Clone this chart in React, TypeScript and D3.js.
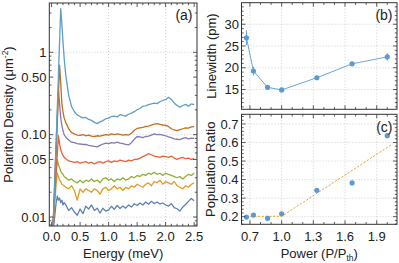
import React from "react";
import * as d3 from "d3";

// ---------- Panel (a): spectra ----------
const energy = [0.02, 0.06, 0.08, 0.1, 0.12, 0.14, 0.16, 0.18, 0.2, 0.22,
  0.25, 0.3, 0.35, 0.4, 0.45, 0.5, 0.55, 0.6, 0.65, 0.7, 0.75, 0.8, 0.85, 0.9, 0.95,
  1.0, 1.05, 1.1, 1.15, 1.2, 1.25, 1.3, 1.35, 1.4, 1.45, 1.5, 1.55, 1.6, 1.65, 1.7,
  1.75, 1.8, 1.85, 1.9, 1.95, 2.0, 2.05, 2.1, 2.15, 2.2, 2.25, 2.3, 2.35, 2.4, 2.45, 2.5];

const spec1 = [0.006, 0.011, 0.015, 0.018, 0.016, 0.017, 0.015, 0.016, 0.014, 0.015,
  0.014, 0.012, 0.013, 0.0115, 0.0105, 0.0125, 0.011, 0.0135, 0.0125, 0.014, 0.012, 0.0128, 0.0112, 0.0128, 0.0118,
  0.0122, 0.0135, 0.0124, 0.0138, 0.0127, 0.0136, 0.0128, 0.014, 0.0132, 0.0145, 0.0138, 0.0148, 0.014, 0.0152, 0.0143,
  0.0155, 0.0146, 0.0152, 0.0144, 0.0148, 0.014, 0.0136, 0.0145, 0.013, 0.0126, 0.0118, 0.0132, 0.0142, 0.0155, 0.0168, 0.0158];
const spec2 = [0.007, 0.016, 0.025, 0.034, 0.031, 0.028, 0.027, 0.025, 0.0245, 0.024,
  0.023, 0.022, 0.024, 0.021, 0.016, 0.022, 0.02, 0.022, 0.021, 0.02, 0.022, 0.021, 0.019, 0.022, 0.023,
  0.021, 0.022, 0.024, 0.022, 0.023, 0.021, 0.023, 0.022, 0.024, 0.023, 0.025, 0.024, 0.023, 0.025, 0.026,
  0.024, 0.027, 0.026, 0.028, 0.025, 0.027, 0.026, 0.025, 0.027, 0.024, 0.023, 0.022, 0.024, 0.023, 0.025, 0.026];
const spec3 = [0.007, 0.022, 0.034, 0.05, 0.043, 0.04, 0.036, 0.034, 0.033, 0.031,
  0.03, 0.028, 0.029, 0.027, 0.026, 0.028, 0.026, 0.028, 0.027, 0.029, 0.027, 0.028, 0.026, 0.029, 0.03,
  0.028, 0.029, 0.027, 0.029, 0.028, 0.03, 0.028, 0.029, 0.031, 0.03, 0.032, 0.031, 0.033, 0.032, 0.034,
  0.033, 0.035, 0.033, 0.034, 0.032, 0.034, 0.033, 0.032, 0.031, 0.03, 0.031, 0.029, 0.031, 0.033, 0.032, 0.034];
const spec4 = [0.007, 0.021, 0.035, 0.058, 0.097, 0.078, 0.066, 0.06, 0.056, 0.053,
  0.051, 0.048, 0.047, 0.046, 0.047, 0.045, 0.046, 0.047, 0.045, 0.046, 0.044, 0.046, 0.047, 0.045, 0.047,
  0.048, 0.046, 0.048, 0.047, 0.049, 0.048, 0.047, 0.049, 0.048, 0.05, 0.05, 0.052, 0.054, 0.056, 0.059,
  0.057, 0.055, 0.054, 0.053, 0.055, 0.054, 0.053, 0.055, 0.052, 0.05, 0.052, 0.053, 0.051, 0.052, 0.05, 0.051];
const spec5 = [0.006, 0.036, 0.076, 0.163, 0.348, 0.24, 0.16, 0.13, 0.112, 0.1,
  0.093, 0.086, 0.081, 0.08, 0.078, 0.077, 0.076, 0.076, 0.074, 0.073, 0.072, 0.071, 0.074, 0.077, 0.079,
  0.078, 0.08, 0.079, 0.081, 0.079, 0.078, 0.076, 0.075, 0.08, 0.088, 0.095, 0.094, 0.092, 0.095, 0.096,
  0.099, 0.102, 0.1, 0.101, 0.099, 0.097, 0.094, 0.092, 0.089, 0.088, 0.087, 0.09, 0.092, 0.089, 0.091, 0.09];
const spec6 = [0.005, 0.027, 0.06, 0.137, 0.31, 0.7, 0.42, 0.24, 0.19, 0.16,
  0.14, 0.118, 0.106, 0.102, 0.099, 0.098, 0.1, 0.097, 0.099, 0.096, 0.095, 0.097, 0.096, 0.098, 0.1,
  0.099, 0.102, 0.1, 0.102, 0.101, 0.099, 0.1, 0.099, 0.104, 0.113, 0.119, 0.121, 0.123, 0.126, 0.127,
  0.131, 0.134, 0.136, 0.133, 0.131, 0.13, 0.126, 0.118, 0.114, 0.112, 0.115, 0.118, 0.121, 0.12, 0.124, 0.125];
const spec7 = [0.005, 0.032, 0.081, 0.21, 0.53, 1.34, 3.4, 2.2, 1.35, 0.85,
  0.52, 0.3, 0.22, 0.19, 0.174, 0.166, 0.16, 0.162, 0.153, 0.149, 0.141, 0.136, 0.143, 0.148, 0.156,
  0.159, 0.166, 0.168, 0.164, 0.175, 0.171, 0.168, 0.177, 0.183, 0.19, 0.201, 0.208, 0.222, 0.224, 0.231,
  0.236, 0.242, 0.238, 0.251, 0.26, 0.266, 0.284, 0.268, 0.243, 0.226, 0.216, 0.226, 0.233, 0.221, 0.236, 0.232];

const spectra = [spec1, spec2, spec3, spec4, spec5, spec6, spec7];
const specColors = ["#5e81b5", "#e19c24", "#8fb032", "#eb6235", "#8778b3", "#c56e1a", "#5d9ec7"];

const energyTicks = [0, 0.5, 1.0, 1.5, 2.0, 2.5];
const energyTickLabels = ["0.0", "0.5", "1.0", "1.5", "2.0", "2.5"];
const densityTicks = [0.01, 0.05, 0.1, 0.5, 1];
const densityTickLabels = ["0.01", "0.05", "0.10", "0.50", "1"];

// ---------- Panels (b), (c) ----------
const power = [0.667, 0.733, 0.867, 1.0, 1.333, 1.667, 2.0];
const linewidth = [26.9, 19.25, 15.5, 14.9, 17.7, 20.9, 22.5];
const linewidthErr = [1.7, 1.0, 0.3, 0.3, 0.3, 0.4, 0.85];
const popRatio = [0.198, 0.209, 0.191, 0.216, 0.342, 0.382, 0.637];
const fitPower = [0.667, 1.0, 2.05];
const fitRatio = [0.202, 0.202, 0.592];

const powerTicks = [0.7, 1.0, 1.3, 1.6, 1.9];
const powerTickLabels = ["0.7", "1.0", "1.3", "1.6", "1.9"];
const lwTicks = [15, 20, 25, 30];
const ratioTicks = [0.2, 0.3, 0.4, 0.5, 0.6, 0.7];

const FONT = "'Liberation Sans', Arial, Helvetica, sans-serif";
const FRAME = "#333";
const GRID = "#c4c4c4";
const PT = "#5b9bd2";

type Scale = (v: number) => number;

function FrameTicks({ x0, x1, y0, y1, xs, ys, xMajor, xMinor, yMajor, yMinor }: {
  x0: number; x1: number; y0: number; y1: number; xs: Scale; ys: Scale;
  xMajor: number[]; xMinor: number[]; yMajor: number[]; yMinor: number[];
}) {
  const L = 4, l = 2.2;
  const els: React.ReactNode[] = [];
  xMajor.forEach((v, i) => {
    const x = xs(v);
    els.push(<line key={"xb" + i} x1={x} x2={x} y1={y1} y2={y1 - L} />);
    els.push(<line key={"xt" + i} x1={x} x2={x} y1={y0} y2={y0 + L} />);
  });
  xMinor.forEach((v, i) => {
    const x = xs(v);
    els.push(<line key={"xbm" + i} x1={x} x2={x} y1={y1} y2={y1 - l} />);
    els.push(<line key={"xtm" + i} x1={x} x2={x} y1={y0} y2={y0 + l} />);
  });
  yMajor.forEach((v, i) => {
    const y = ys(v);
    els.push(<line key={"yl" + i} x1={x0} x2={x0 + L} y1={y} y2={y} />);
    els.push(<line key={"yr" + i} x1={x1} x2={x1 - L} y1={y} y2={y} />);
  });
  yMinor.forEach((v, i) => {
    const y = ys(v);
    els.push(<line key={"ylm" + i} x1={x0} x2={x0 + l} y1={y} y2={y} />);
    els.push(<line key={"yrm" + i} x1={x1} x2={x1 - l} y1={y} y2={y} />);
  });
  return <g stroke={FRAME} strokeWidth={0.8}>{els}</g>;
}

export default function App() {
  // panel a
  const ax0 = 49.3, ax1 = 197, ay0 = 3, ay1 = 226;
  const xA = d3.scaleLinear().domain([-0.04, 2.55]).range([ax0, ax1]);
  const yA = d3.scaleLog().domain([0.00778, 3.97]).range([ay1, ay0]);
  const lineA = d3.line<number>().x((_, i) => xA(energy[i])).y((d) => yA(d));

  const aMinorX = d3.range(0, 2.55, 0.1).filter((v) => Math.abs((v * 2) - Math.round(v * 2)) > 1e-6);
  const aMinorY: number[] = [];
  [0.001, 0.01, 0.1, 1].forEach((dec) => {
    for (let k = 1; k <= 9; k++) {
      const v = k * dec;
      if (v >= 0.0078 && v <= 3.97 && !densityTicks.some((m) => Math.abs(m - v) < 1e-9)) aMinorY.push(v);
    }
  });

  // panels b, c
  const bx0 = 241.5, bx1 = 397;
  const by0 = 2.7, by1 = 109.3, cy0 = 114.3, cy1 = 224.3;
  const xP = d3.scaleLinear().domain([0.62, 2.092]).range([bx0, bx1]);
  const yB = d3.scaleLinear().domain([10.45, 34.95]).range([by1, by0]);
  const yC = d3.scaleLinear().domain([0.159, 0.752]).range([cy1, cy0]);
  const lineB = d3.line<number>().x((_, i) => xP(power[i])).y((d) => yB(d));
  const lineFit = d3.line<number>().x((_, i) => xP(fitPower[i])).y((d) => yC(d));
  const pMinor = d3.range(0.7, 2.05, 0.1).filter((v) => !powerTicks.some((m) => Math.abs(m - v) < 1e-6));
  const bMinor = d3.range(11, 35, 1).filter((v) => v % 5 !== 0);
  const cMinor = d3.range(0.16, 0.75, 0.02).filter((v) => !ratioTicks.some((m) => Math.abs(m - v) < 1e-6));

  return (
    <svg width={399} height={263} style={{ position: "absolute", left: 0, top: 0, background: "#fff" }}
      fontFamily={FONT}>
      <defs>
        <clipPath id="clipA"><rect x={ax0} y={ay0} width={ax1 - ax0} height={ay1 - ay0} /></clipPath>
      </defs>
      {/* ---------- panel a ---------- */}
      <g stroke={GRID} strokeWidth={0.8} strokeDasharray="1,2">
        {[1.0, 2.0].map((v) => <line key={"ga" + v} x1={xA(v)} x2={xA(v)} y1={ay0} y2={ay1} />)}
        {[0.01, 0.1, 1].map((v) => <line key={"gay" + v} x1={ax0} x2={ax1} y1={yA(v)} y2={yA(v)} />)}
      </g>
      <g clipPath="url(#clipA)" fill="none">
        {spectra.map((s, i) => (
          <path key={i} d={lineA(s) || ""} stroke={specColors[i]} strokeWidth={1.3} strokeLinejoin="round" />
        ))}
      </g>
      <rect x={ax0} y={ay0} width={ax1 - ax0} height={ay1 - ay0} fill="none" stroke={FRAME} strokeWidth={1} />
      <FrameTicks x0={ax0} x1={ax1} y0={ay0} y1={ay1} xs={xA} ys={yA}
        xMajor={energyTicks} xMinor={aMinorX} yMajor={densityTicks} yMinor={aMinorY} />
      <g fontSize={13} fill="#222">
        {energyTicks.map((v, i) => (
          <text key={"ex" + i} x={xA(v)} y={241} textAnchor="middle">{energyTickLabels[i]}</text>
        ))}
        {densityTicks.map((v, i) => (
          <text key={"dy" + i} x={46.5} y={yA(v) + 4.6} textAnchor="end">{densityTickLabels[i]}</text>
        ))}
        <text x={(ax0 + ax1) / 2} y={258} textAnchor="middle">Energy (meV)</text>
        <text transform={`translate(12.8,${(ay0 + ay1) / 2}) rotate(-90)`} textAnchor="middle">
          Polariton Density (μm<tspan fontSize={8.5} dy={-5}>-2</tspan><tspan dy={5}>)</tspan>
        </text>
        <text x={192.5} y={19.5} textAnchor="end" fontSize={14}>(a)</text>
      </g>

      {/* ---------- panel b ---------- */}
      <g stroke={GRID} strokeWidth={0.8} strokeDasharray="1,2">
        {powerTicks.map((v) => <line key={"gb" + v} x1={xP(v)} x2={xP(v)} y1={by0} y2={by1} />)}
        {lwTicks.map((v) => <line key={"gby" + v} x1={bx0} x2={bx1} y1={yB(v)} y2={yB(v)} />)}
        {powerTicks.map((v) => <line key={"gc" + v} x1={xP(v)} x2={xP(v)} y1={cy0} y2={cy1} />)}
        {ratioTicks.map((v) => <line key={"gcy" + v} x1={bx0} x2={bx1} y1={yC(v)} y2={yC(v)} />)}
      </g>
      <path d={lineB(linewidth) || ""} fill="none" stroke={PT} strokeWidth={0.9} />
      <g stroke={PT} strokeWidth={1}>
        {power.map((p, i) => (
          <line key={"eb" + i} x1={xP(p)} x2={xP(p)} y1={yB(linewidth[i] - linewidthErr[i])} y2={yB(linewidth[i] + linewidthErr[i])} />
        ))}
      </g>
      <g fill={PT}>
        {power.map((p, i) => <circle key={"pb" + i} cx={xP(p)} cy={yB(linewidth[i])} r={2.6} />)}
      </g>
      <rect x={bx0} y={by0} width={bx1 - bx0} height={by1 - by0} fill="none" stroke={FRAME} strokeWidth={1} />
      <FrameTicks x0={bx0} x1={bx1} y0={by0} y1={by1} xs={xP} ys={yB}
        xMajor={powerTicks} xMinor={pMinor} yMajor={lwTicks} yMinor={bMinor} />
      <g fontSize={13} fill="#222">
        {lwTicks.map((v) => (
          <text key={"lw" + v} x={239} y={yB(v) + 4.6} textAnchor="end">{v}</text>
        ))}
        <text transform={`translate(216,${(by0 + by1) / 2}) rotate(-90)`} textAnchor="middle">Linewidth (pm)</text>
        <text x={392.5} y={19.5} textAnchor="end" fontSize={14}>(b)</text>
      </g>

      {/* ---------- panel c ---------- */}
      <path d={lineFit(fitRatio) || ""} fill="none" stroke="#e9a12a" strokeWidth={1} strokeDasharray="2.2,1.6" />
      <g fill={PT}>
        {power.map((p, i) => <circle key={"pc" + i} cx={xP(p)} cy={yC(popRatio[i])} r={2.6} />)}
      </g>
      <rect x={bx0} y={cy0} width={bx1 - bx0} height={cy1 - cy0} fill="none" stroke={FRAME} strokeWidth={1} />
      <FrameTicks x0={bx0} x1={bx1} y0={cy0} y1={cy1} xs={xP} ys={yC}
        xMajor={powerTicks} xMinor={pMinor} yMajor={ratioTicks} yMinor={cMinor} />
      <g fontSize={13} fill="#222">
        {ratioTicks.map((v) => (
          <text key={"rt" + v} x={238.5} y={yC(v) + 4.6} textAnchor="end">{v.toFixed(1)}</text>
        ))}
        {powerTicks.map((v, i) => (
          <text key={"pt" + i} x={xP(v)} y={241} textAnchor="middle">{powerTickLabels[i]}</text>
        ))}
        <text transform={`translate(214.5,${(cy0 + cy1) / 2}) rotate(-90)`} textAnchor="middle">Population Ratio</text>
        <text x={(bx0 + bx1) / 2} y={258} textAnchor="middle">
          Power (P/P<tspan fontSize={8.5} dy={3}>th</tspan><tspan dy={-3}>)</tspan>
        </text>
        <text x={392.5} y={131.5} textAnchor="end" fontSize={14}>(c)</text>
      </g>
    </svg>
  );
}
